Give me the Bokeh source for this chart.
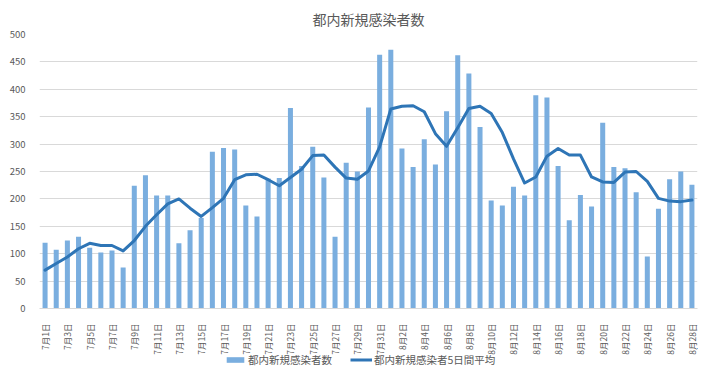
import math
from bokeh.plotting import figure
from bokeh.layouts import column
from bokeh.models import ColumnDataSource, Range1d, FixedTicker, Legend, LegendItem
from bokeh.embed import file_html
from bokeh.resources import INLINE

dates = [f"7月{d}日" for d in range(1, 32)] + [f"8月{d}日" for d in range(1, 29)]
cases = [120, 107, 124, 131, 111, 102, 106, 75, 224, 243, 206, 206, 119, 143, 165,
         286, 293, 290, 188, 168, 237, 238, 366, 260, 295, 239, 131, 266, 250, 367, 463,
         472, 292, 258, 309, 263, 360, 462, 429, 331, 197, 188, 222, 206, 389, 385,
         260, 161, 207, 186, 339, 258, 256, 212, 95, 182, 236, 250, 226]
avg5 = [70, 82, 94, 109, 119, 115, 115, 105, 124, 150, 171, 191, 200, 183, 168,
        184, 201, 235, 244, 245, 235, 224, 239, 254, 279, 280, 258, 238, 236, 251, 295,
        364, 369, 370, 359, 319, 296, 330, 365, 369, 356, 321, 273, 229, 240, 278,
        292, 280, 280, 240, 231, 230, 249, 250, 232, 201, 196, 195, 198]
series_names = ["都内新規感染者数", "都内新規感染者5日間平均"]
title_text = "都内新規感染者数"
y_ticks = [0, 50, 100, 150, 200, 250, 300, 350, 400, 450, 500]

idx = list(range(len(dates)))
src = ColumnDataSource(dict(x=idx, cases=cases, avg=avg5, label=dates))

FONT = "Noto Sans CJK JP"
GREY = "#595959"
BAR_C = "#7aaedf"
LINE_C = "#2e75b6"

p = figure(width=721, height=361, output_backend="svg", toolbar_location=None,
           x_range=Range1d(-0.5, len(dates) - 0.5), y_range=Range1d(0, 500),
           min_border_left=39, min_border_right=24, min_border_top=34,
           min_border_bottom=53, title=title_text)
p.outline_line_color = None
p.background_fill_color = "white"
p.border_fill_color = "white"

p.title.align = "center"
p.title.text_font = FONT
p.title.text_font_size = "14px"
p.title.text_font_style = "normal"
p.title.text_color = GREY
p.title.standoff = 12

p.vbar(x="x", top="cases", width=0.45, source=src, fill_color=BAR_C, line_color=None)
p.line(x="x", y="avg", source=src, line_width=3, line_color=LINE_C,
       line_join="round", line_cap="round")

xa = p.xaxis[0]
xa.ticker = FixedTicker(ticks=idx[::2])
xa.major_label_overrides = {i: dates[i] for i in idx[::2]}
xa.major_label_orientation = math.pi / 2
xa.major_tick_line_color = None
xa.minor_tick_line_color = None
xa.axis_line_color = "#d9d9d9"
xa.major_label_text_font = FONT
xa.major_label_text_font_size = "8.5px"
xa.major_label_text_color = GREY
xa.major_label_standoff = 9

ya = p.yaxis[0]
ya.ticker = FixedTicker(ticks=y_ticks)
ya.axis_line_color = None
ya.major_tick_line_color = None
ya.minor_tick_line_color = None
ya.major_label_text_font = FONT
ya.major_label_text_font_size = "9.5px"
ya.major_label_text_color = GREY
ya.major_label_standoff = 8

p.xgrid.grid_line_color = None
p.ygrid.ticker = FixedTicker(ticks=y_ticks)
p.ygrid.grid_line_color = "#d9d9d9"

# legend strip (its renderers sit far outside its own visible range)
q = figure(width=721, height=26, output_backend="svg", toolbar_location=None,
           x_range=Range1d(-1000, -999), y_range=Range1d(-1000, -999), min_border=0,
           x_axis_type=None, y_axis_type=None)
q.outline_line_color = None
q.background_fill_alpha = 0
q.border_fill_alpha = 0
q.xgrid.grid_line_color = None
q.ygrid.grid_line_color = None
q.styles = {"margin-top": "-13px"}
lb = q.vbar(x="x", top="cases", width=0.45, source=src, fill_color=BAR_C, line_color=None)
ll = q.line(x="x", y="avg", source=src, line_width=3, line_color=LINE_C)


def make_legend(label, renderer, loc):
    lg = Legend(items=[LegendItem(label=label, renderers=[renderer])], location=loc)
    lg.label_text_font = FONT
    lg.label_text_font_size = "10.5px"
    lg.label_text_color = GREY
    lg.border_line_color = None
    lg.background_fill_alpha = 0
    lg.padding = 3
    lg.margin = 0
    lg.glyph_width = 22
    lg.glyph_height = 7
    lg.label_standoff = 2
    return lg


q.add_layout(make_legend(series_names[0], lb, (185, 7)))
q.add_layout(make_legend(series_names[1], ll, (311, 7)))

lay = column(p, q, spacing=0)
open("out.html", "w").write(file_html(lay, INLINE))
